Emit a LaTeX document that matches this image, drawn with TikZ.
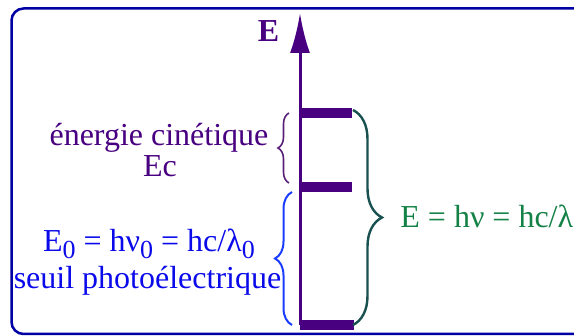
\documentclass[tikz,border=0pt]{standalone}
\usepackage{fontspec}
\setmainfont{Liberation Serif}
\usetikzlibrary{arrows.meta,decorations.pathreplacing}

\definecolor{cadre}{RGB}{0,0,165}
\definecolor{indigo}{RGB}{72,0,128}
\definecolor{violetacc}{RGB}{88,30,120}
\definecolor{bleu}{RGB}{10,10,235}
\definecolor{bleuacc}{RGB}{25,60,255}
\definecolor{vert}{RGB}{20,130,70}
\definecolor{vertacc}{RGB}{25,80,80}

\newcommand\indice[1]{\raisebox{-0.2em}{\fontsize{13}{13}\selectfont #1}}

\tikzset{
  txt/.style={inner sep=0pt, font=\fontsize{16}{19}\selectfont},
  level/.style={indigo, line width=5pt},
  accol/.style={decorate, decoration={brace, amplitude=#1}},
}

\begin{document}
\begin{tikzpicture}[x=0.5pt, y=-0.5pt]
  \useasboundingbox (0,0) rectangle (574,336);
  \clip (0,0) rectangle (574,336);

  % Frame
  \draw[cadre, line width=1.25pt, rounded corners=6pt] (11.5,8.5) rectangle (620,334);

  % Energy axis
  \coordinate (bas) at (300,325);
  \coordinate (haut) at (300,13);
  \draw[indigo, line width=1.5pt, -{Latex[length=20pt,width=10pt]}] (bas) -- (haut);
  \node[txt, indigo, font=\fontsize{16}{19}\selectfont\bfseries, anchor=base] (E) at (268.5,42) {E};

  % Levels
  \coordinate (n0) at (300,325);
  \coordinate (n1) at (300,187);
  \coordinate (n2) at (300,113);
  \draw[level] (n0) -- +(54,0);
  \draw[level] (n1) -- +(52,0);
  \draw[level] (n2) -- +(52,0);

  % Braces
  \draw[accol=5.5pt, violetacc, line width=0.8pt] (289,183) -- (289,113);
  \draw[accol=8.5pt, bleuacc, line width=1pt] (292,325) -- (292,192);
  \draw[accol=14.5pt, vertacc, line width=1.2pt] (353,110) -- (353,325);

  % Labels
  \node[txt, indigo, anchor=base] (ec1) at (159,146) {énergie cinétique};
  \node[txt, indigo, anchor=base] (ec2) at (160,177) {Ec};
  \node[txt, bleu, anchor=base] (e0) at (149,252) {E\indice{0} = hν\indice{0} = hc/λ\indice{0}};
  \node[txt, bleu, anchor=base] (seuil) at (147.5,289) {seuil photoélectrique};
  \node[txt, vert, anchor=base west] (ephot) at (400,228) {E = hν = hc/λ};
\end{tikzpicture}
\end{document}
